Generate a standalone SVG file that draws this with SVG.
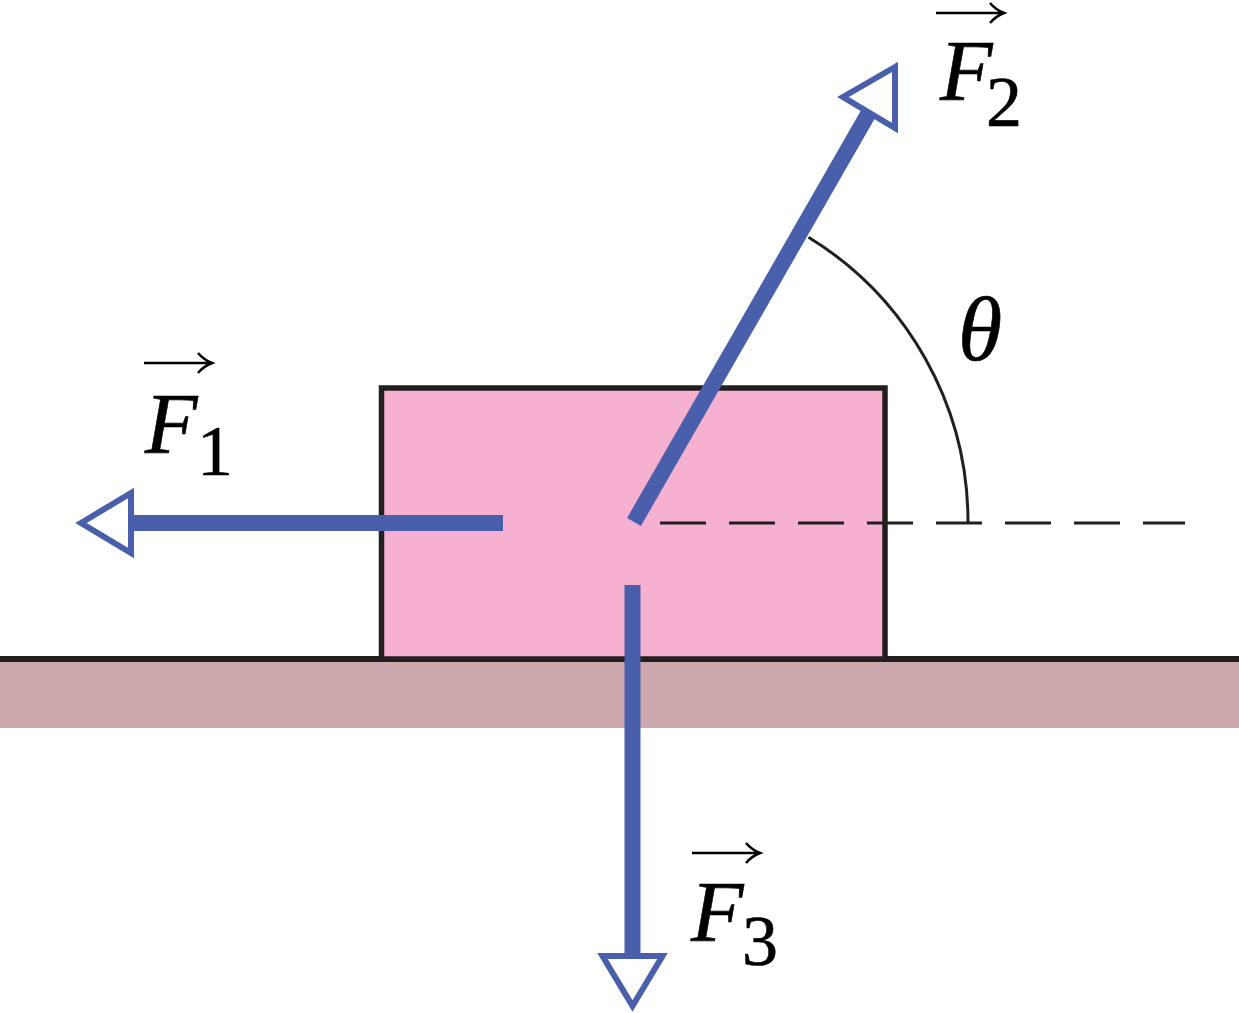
<svg xmlns="http://www.w3.org/2000/svg" width="1239" height="1013" viewBox="0 0 1239 1013">
<style>
.blk{stroke:#231f20;fill:none}
.shaft{stroke:#4a5fab;stroke-width:16;fill:none}
.head{stroke:#4a5fab;stroke-width:6;fill:#fff;stroke-linejoin:miter}
.lbl{font-family:"Liberation Serif","Times New Roman",serif;fill:#000;stroke:#000;stroke-width:0.6}
.vec{stroke:#000;stroke-width:2.6;fill:none}
</style>
<rect width="1239" height="1013" fill="#fff"/>
<g id="ground">
<rect x="0" y="661" width="1239" height="67" fill="#cca8ac"/>
<line class="blk" x1="0" y1="659" x2="1239" y2="659" stroke-width="6"/>
</g>
<g id="block">
<rect x="381.5" y="388" width="503.5" height="271" fill="#f5b1cf" stroke="#231f20" stroke-width="5.5"/>
</g>
<g id="reference">
<line class="blk" x1="660" y1="523" x2="1185" y2="523" stroke-width="3" stroke-dasharray="46 23"/>
<path class="blk" d="M808.5,237.2 A334,334 0 0 1 968,522" stroke-width="3"/>
</g>
<g id="connectors">
<g id="F1-arrow">
<line class="shaft" x1="503" y1="523" x2="131" y2="523"/>
<polygon class="head" points="81,523 131,493 131,553"/>
</g>
<g id="F2-arrow">
<line class="shaft" x1="634" y1="522" x2="869" y2="112.5"/>
<polygon class="head" points="895,67 843,97 895,128"/>
</g>
<g id="F3-arrow">
<line class="shaft" x1="632.5" y1="585" x2="632.5" y2="956"/>
<polygon class="head" points="632.5,1006 602.5,956 662.5,956"/>
</g>
</g>
<g id="label-F1">
<path class="vec" d="M144,363 H211 M198,353 Q204,360 212,363 Q204,366 198,373"/>
<text class="lbl" x="145" y="453" font-size="86" font-style="italic">F</text>
<text class="lbl" x="197" y="475" font-size="72">1</text>
</g>
<g id="label-F2">
<path class="vec" d="M936,13 H1003 M990,3 Q996,10 1004,13 Q996,16 990,23"/>
<text class="lbl" x="940" y="100" font-size="86" font-style="italic">F</text>
<text class="lbl" x="986" y="126" font-size="72">2</text>
</g>
<g id="label-F3">
<path class="vec" d="M692,853 H759 M746,843 Q752,850 760,853 Q752,856 746,863"/>
<text class="lbl" x="691" y="941" font-size="86" font-style="italic">F</text>
<text class="lbl" x="742" y="965" font-size="72">3</text>
</g>
<g id="label-theta">
<text class="lbl" x="958" y="360" font-size="90" font-style="italic" stroke-width="1.6">θ</text>
</g>
</svg>
